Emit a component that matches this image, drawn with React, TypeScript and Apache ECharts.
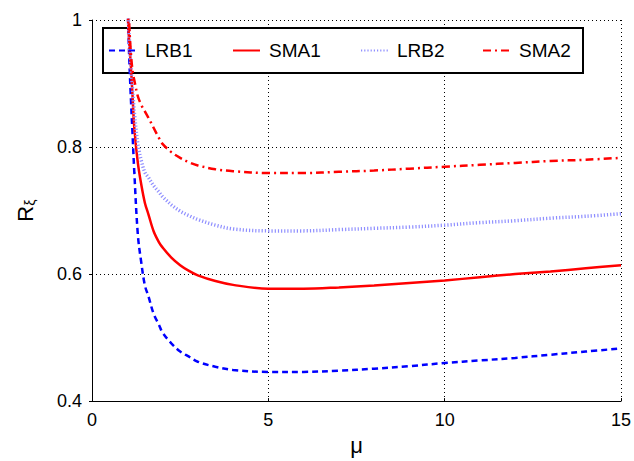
import React, { useEffect, useRef } from "react";
import * as echarts from "echarts";

const mu = [1.0, 1.05, 1.1, 1.15, 1.2, 1.3, 1.4, 1.5, 1.6, 1.75, 1.9, 2, 2.25, 2.5, 2.75, 3, 3.5, 4, 5, 6, 7, 8, 9, 10, 11, 12, 13, 14, 15];
const lrb1 = [1.05, 0.95, 0.88, 0.82, 0.76, 0.662, 0.617, 0.582, 0.565, 0.537, 0.52, 0.508, 0.491, 0.478, 0.47, 0.462, 0.454, 0.449, 0.446, 0.446, 0.448, 0.451, 0.455, 0.46, 0.464, 0.468, 0.473, 0.478, 0.483];
const sma1 = [1.03, 0.97, 0.93, 0.88, 0.83, 0.775, 0.74, 0.712, 0.694, 0.667, 0.65, 0.642, 0.626, 0.614, 0.605, 0.598, 0.589, 0.583, 0.577, 0.577, 0.579, 0.582, 0.586, 0.59, 0.595, 0.6, 0.604, 0.609, 0.614];
const lrb2 = [1.05, 0.98, 0.93, 0.89, 0.855, 0.805, 0.778, 0.76, 0.752, 0.739, 0.729, 0.722, 0.709, 0.699, 0.692, 0.686, 0.677, 0.671, 0.668, 0.668, 0.67, 0.672, 0.674, 0.677, 0.681, 0.684, 0.688, 0.691, 0.695];
const sma2 = [1.08, 1.0, 0.95, 0.92, 0.905, 0.88, 0.866, 0.856, 0.846, 0.83, 0.814, 0.805, 0.792, 0.783, 0.776, 0.771, 0.765, 0.762, 0.759, 0.759, 0.761, 0.763, 0.766, 0.769, 0.772, 0.775, 0.778, 0.78, 0.783];

const seriesNames = ["LRB1", "SMA1", "LRB2", "SMA2"];
const xTicks = { min: 0, max: 15, interval: 5 };
const yTicks = { min: 0.4, max: 1, interval: 0.2 };

const FONT = "Liberation Sans, Arial, Helvetica, sans-serif";

const pair = (ys: number[]) => mu.map((m, i) => [m, ys[i]]);

export default function App() {
  const ref = useRef<HTMLDivElement>(null);
  useEffect(() => {
    if (!ref.current) return;
    const chart = echarts.init(ref.current, undefined, { renderer: "svg" });
    const styles = [
      { color: "#0000ff", width: 2.5, type: [6, 4] },
      { color: "#ff0000", width: 2.5, type: "solid" },
      { color: "#8f8fff", width: 3.5, type: [1.2, 2] },
      { color: "#ff0000", width: 2.5, type: [8, 4, 2, 4] },
    ];
    const datas = [lrb1, sma1, lrb2, sma2];
    const legendLefts = [108, 232, 360, 482];
    chart.setOption({
      animation: false,
      backgroundColor: "#fff",
      grid: { left: 92, right: 12, top: 20, bottom: 48, containLabel: false },
      xAxis: {
        type: "value",
        min: xTicks.min,
        max: xTicks.max,
        interval: xTicks.interval,
        axisLine: { show: true, onZero: false, lineStyle: { color: "#000", width: 1 } },
        axisTick: { show: true, inside: true, length: 3, lineStyle: { color: "#000" } },
        axisLabel: { color: "#000", fontSize: 18, fontFamily: FONT, margin: 10 },
        splitLine: { show: true, lineStyle: { color: "#000", type: [1, 3], width: 1 } },
        name: "μ",
        nameLocation: "middle",
        nameGap: 25,
        nameTextStyle: { color: "#000", fontSize: 22, fontFamily: FONT },
      },
      yAxis: {
        type: "value",
        min: yTicks.min,
        max: yTicks.max,
        interval: yTicks.interval,
        axisLine: { show: true, onZero: false, lineStyle: { color: "#000", width: 1 } },
        axisTick: { show: true, inside: false, length: 3, lineStyle: { color: "#000" } },
        axisLabel: {
          color: "#000",
          fontSize: 18,
          fontFamily: FONT,
          margin: 10,
          formatter: (v: number) => (Math.abs(v - 1) < 1e-9 ? "1" : v.toFixed(1)),
        },
        splitLine: { show: true, lineStyle: { color: "#000", type: [1, 3], width: 1 } },
        name: "R{sub|ξ}",
        nameLocation: "middle",
        nameRotate: 90,
        nameGap: 55,
        nameTextStyle: {
          color: "#000",
          fontSize: 22,
          fontFamily: FONT,
          rich: {
            sub: { fontSize: 14, fontFamily: FONT, color: "#000", verticalAlign: "bottom", padding: [10, 0, 0, 0] },
          },
        },
      },
      legend: seriesNames.map((n, i) => ({
        data: [n],
        left: legendLefts[i],
        top: 41,
        padding: 0,
        itemWidth: 27,
        itemHeight: 10,
        itemStyle: { color: "transparent", borderWidth: 0, opacity: 0 },
        textStyle: { color: "#000", fontSize: 19, fontFamily: FONT, padding: [0, 0, 0, 4] },
        selectedMode: false,
      })),
      graphic: [
        {
          type: "rect",
          z: 3,
          shape: { x: 103, y: 28, width: 480, height: 45 },
          style: { fill: "#fff", stroke: "#000", lineWidth: 2 },
        },
      ],
      series: seriesNames.map((n, i) => ({
        name: n,
        type: "line",
        data: pair(datas[i]),
        showSymbol: false,
        symbol: "none",
        smooth: 0.35,
        clip: true,
        lineStyle: styles[i],
        itemStyle: { color: styles[i].color },
      })),
    });
    return () => chart.dispose();
  }, []);
  return <div ref={ref} style={{ position: "fixed", left: 0, top: 0, width: 634, height: 461 }} />;
}
